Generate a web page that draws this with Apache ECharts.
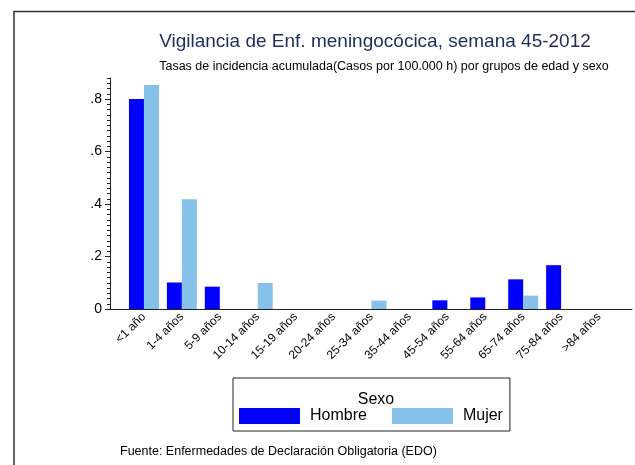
<!DOCTYPE html>
<html lang="es">
<head>
<meta charset="UTF-8" />
<title>Vigilancia de Enf. meningocócica</title>
<style>
  body { margin: 0; padding: 0; background: #fff; }
  #chart { width: 635px; height: 465px; }
</style>
</head>
<body>
<div id="chart"></div>

<script src="https://cdn.jsdelivr.net/npm/echarts@6/dist/echarts.min.js"></script>
<script>
  // grupos de edad
  const grupos = ['<1 año', '1-4 años', '5-9 años', '10-14 años', '15-19 años', '20-24 años',
    '25-34 años', '35-44 años', '45-54 años', '55-64 años', '65-74 años', '75-84 años', '>84 años'];
  // tasas por 100.000 h
  const hombre = [0.80, 0.101, 0.085, 0, 0, 0, 0, 0, 0.033, 0.044, 0.113, 0.167, 0];
  const mujer = [0.853, 0.418, 0, 0.099, 0, 0, 0.032, 0, 0, 0, 0.051, 0, 0];
  const yTicks = [0, 0.2, 0.4, 0.6, 0.8];

  const font = '"Liberation Sans", Arial, Helvetica, sans-serif';
  const yMax = 0.88;

  const chart = echarts.init(document.getElementById('chart'));

  chart.setOption({
    animation: false,
    textStyle: { fontFamily: font },
    title: [
      {
        text: 'Vigilancia de Enf. meningocócica, semana 45-2012',
        left: 370, top: 27, textAlign: 'center',
        textStyle: { fontSize: 19, fontWeight: 'normal', color: '#1c2d5e', fontFamily: font }
      },
      {
        text: 'Tasas de incidencia acumulada(Casos por 100.000 h) por grupos de edad y sexo',
        left: 379, top: 55, textAlign: 'center',
        textStyle: { fontSize: 12.5, fontWeight: 'normal', color: '#000', fontFamily: font }
      },
      {
        text: 'Sexo',
        left: 371, top: 387, textAlign: 'center',
        textStyle: { fontSize: 16, fontWeight: 'normal', color: '#000', fontFamily: font }
      },
      {
        text: 'Fuente: Enfermedades de Declaración Obligatoria (EDO)',
        left: 115, top: 440,
        textStyle: { fontSize: 12.5, fontWeight: 'normal', color: '#000', fontFamily: font }
      }
    ],
    legend: {
      left: 233, top: 378,
      padding: [30, 7, 7, 6],
      borderColor: '#222', borderWidth: 1,
      itemWidth: 61, itemHeight: 16, itemGap: 25,
      icon: 'rect',
      textStyle: { fontSize: 16, color: '#000', padding: [0, 0, 0, 5], fontFamily: font },
      data: ['Hombre', 'Mujer']
    },
    graphic: [{
      type: 'rect',
      shape: { x: 14, y: 11.5, width: 700, height: 600 },
      style: { fill: 'none', stroke: '#333', lineWidth: 1.5 },
      silent: true
    }],
    grid: [
      { left: 125, right: 17, top: 78, bottom: 156 },
      { left: 110, right: 3, top: 78, bottom: 156 }
    ],
    xAxis: [
      {
        type: 'category', gridIndex: 0, data: grupos,
        axisLine: { show: false }, axisTick: { show: false },
        axisLabel: { rotate: 45, fontSize: 12, color: '#000', margin: 6, interval: 0 }
      },
      {
        type: 'value', gridIndex: 1, min: 0, max: 1,
        axisLine: { show: true, lineStyle: { color: '#222', width: 1 } },
        axisTick: { show: false }, axisLabel: { show: false }, splitLine: { show: false }
      }
    ],
    yAxis: [
      { type: 'value', gridIndex: 0, min: 0, max: yMax, show: false },
      {
        type: 'value', gridIndex: 1, position: 'left', min: 0, max: yMax,
        axisLine: { show: true, lineStyle: { color: '#222', width: 1 } },
        axisTick: { show: true, length: 5, customValues: yTicks, lineStyle: { color: '#222' } },
        axisLabel: {
          fontSize: 14, color: '#000', margin: 8, customValues: yTicks,
          formatter: v => v === 0 ? '0' : String(+v.toFixed(1)).replace(/^0/, '')
        },
        splitLine: { show: false }
      },
      {
        type: 'value', gridIndex: 1, position: 'left', offset: 0, min: 0, max: yMax, interval: 0.02,
        axisLine: { show: false },
        axisTick: { show: true, length: 3, lineStyle: { color: '#222' } },
        axisLabel: { show: false }, splitLine: { show: false }
      }
    ],
    series: [
      {
        name: 'Hombre', type: 'bar', xAxisIndex: 0, yAxisIndex: 0,
        data: hombre, barWidth: 15, barGap: '0%',
        itemStyle: { color: '#0000ff' }
      },
      {
        name: 'Mujer', type: 'bar', xAxisIndex: 0, yAxisIndex: 0,
        data: mujer, barWidth: 15, barGap: '0%',
        itemStyle: { color: '#85c1e9' }
      }
    ]
  });
</script>
</body>
</html>
